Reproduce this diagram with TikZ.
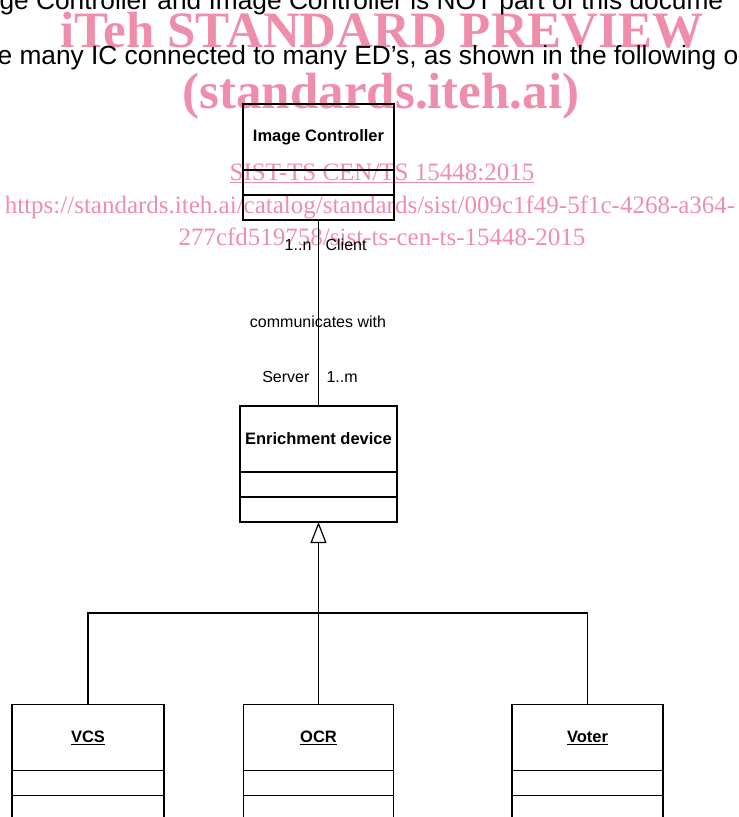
\documentclass[tikz,border=0pt]{standalone}
\usepackage{fontspec}
\setmainfont{Liberation Sans}
\newfontfamily\wmfont{Liberation Serif}
\usetikzlibrary{positioning,arrows.meta}
\definecolor{wmpink}{RGB}{239,142,171}
\begin{document}
\begin{tikzpicture}[x=1pt,y=-1pt,line width=1.2pt,
	cls/.style={draw,minimum width=#1,minimum height=66pt,inner sep=0pt,outer sep=0pt,font=\fontsize{16.5}{18}\selectfont\bfseries},
	slot/.style={draw,minimum width=#1,minimum height=25pt,inner sep=0pt,outer sep=0pt},
	lbl/.style={inner sep=0pt,font=\fontsize{16}{18}\selectfont},
	wm/.style={text=wmpink,inner sep=0pt,anchor=base}]
	\useasboundingbox (0,0) rectangle (739,817);
	\clip (0,0) rectangle (739,817);

	\node[wm,font=\wmfont\bfseries\fontsize{51}{51}\selectfont] (wmhead) at (382,47) {iTeh STANDARD PREVIEW};
	\node[wm,font=\wmfont\bfseries\fontsize{51}{51}\selectfont] (wmsite) at (381,108) {(standards.iteh.ai)};
	\node[wm,font=\wmfont\fontsize{25}{25}\selectfont] (wmref) at (382,180) {\underline{SIST-TS CEN/TS 15448:2015}};
	\node[wm,font=\wmfont\fontsize{25}{25}\selectfont] (wmurl) at (370,213) {https://standards.iteh.ai/catalog/standards/sist/009c1f49-5f1c-4268-a364-};
	\node[wm,font=\wmfont\fontsize{25}{25}\selectfont] (wmurlb) at (382,245) {277cfd519758/sist-ts-cen-ts-15448-2015};

	\node[anchor=base west,inner sep=0pt,font=\fontsize{26.3}{30}\selectfont] (lineA) at (-1,9) {ge Controller and Image Controller is NOT part of this docume};
	\node[anchor=base west,inner sep=0pt,font=\fontsize{26.3}{30}\selectfont] (lineB) at (-3,64) {e many IC connected to many ED’s, as shown in the following o};

	\node[cls=151] (ic) at (318.5,137) {Image Controller};
	\node[slot=151,below=0pt of ic] (ic1) {};
	\node[slot=151,below=0pt of ic1] (ic2) {};

	\node[cls=157] (ed) at (318.5,439) {Enrichment device};
	\node[slot=157,below=0pt of ed] (ed1) {};
	\node[slot=157,below=0pt of ed1] (ed2) {};

	\node[cls=152] (vcs) at (88,737.5) {\underline{VCS}};
	\node[slot=152,below=0pt of vcs] (vcs1) {};
	\node[slot=152,below=0pt of vcs1] (vcs2) {};
	\node[cls=150] (ocr) at (318.5,737.5) {\underline{OCR}};
	\node[slot=150,below=0pt of ocr] (ocr1) {};
	\node[slot=150,below=0pt of ocr1] (ocr2) {};
	\node[cls=151] (voter) at (587.5,737.5) {\underline{Voter}\vphantom{C}};
	\node[slot=151,below=0pt of voter] (voter1) {};
	\node[slot=151,below=0pt of voter1] (voter2) {};

	\draw (ic2.south) -- (ed.north);
	\node[lbl,anchor=east] (icmult) at (312,245) {1..n};
	\node[lbl,anchor=west] (icrole) at (325,245) {Client};
	\node[lbl] (assoc) at (318,322) {communicates with};
	\node[lbl,anchor=east] (edrole) at (310,377) {Server};
	\node[lbl,anchor=west] (edmult) at (326,377) {1..m};

	\coordinate (bus) at (ed2.south |- 0,613);
	\draw (vcs.north) |- (bus) -| (voter.north);
	\draw (ocr.north) -- (bus);
	\draw[-{Triangle[open,length=21pt,width=16pt]}] (bus) -- (ed2.south);

\end{tikzpicture}
\end{document}
